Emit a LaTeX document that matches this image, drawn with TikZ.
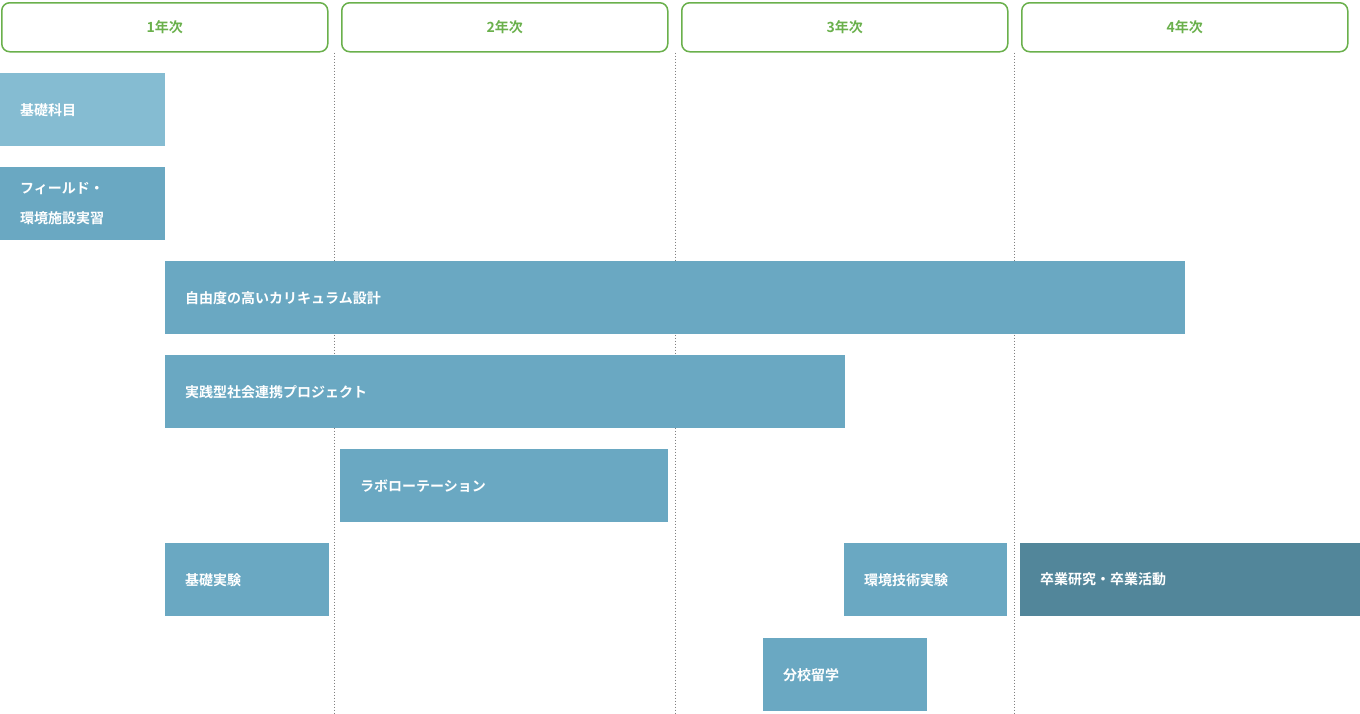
\documentclass[tikz,border=0pt]{standalone}
\usepackage{fontspec}
\newfontfamily\jpbold[BoldFont={Noto Sans CJK JP Bold}]{Noto Sans CJK JP}
\definecolor{yeargreen}{HTML}{6AB04C}
\definecolor{barlight}{HTML}{85BCD2}
\definecolor{barmid}{HTML}{6AA8C2}
\definecolor{bardark}{HTML}{52869A}
\tikzset{
  yearbox/.style={draw=yeargreen, line width=1.5pt, rounded corners=8pt, minimum width=326pt, minimum height=49pt, anchor=north west, font=\jpbold\bfseries\fontsize{14}{16}\selectfont, text=yeargreen},
  bar/.style={fill=#1, anchor=north west, minimum height=73pt, inner xsep=20pt, align=left, text=white, font=\jpbold\bfseries\fontsize{14}{30}\selectfont},
  divider/.style={gray, dotted, line width=1pt}
}
\begin{document}
\begin{tikzpicture}[x=1pt,y=-1pt]
  \useasboundingbox (0,0) rectangle (1360,713);
  % year headers
  \node[yearbox] (y1) at (1,2) {1年次};
  \node[yearbox] (y2) at (341,2) {2年次};
  \node[yearbox] (y3) at (681,2) {3年次};
  \node[yearbox] (y4) at (1021,2) {4年次};
  % dividers
  \coordinate (d1) at (334,713);
  \coordinate (d2) at (675,713);
  \coordinate (d3) at (1014,713);
  \draw[divider] (y1.south east -| d1) -- (d1);
  \draw[divider] (y2.south east -| d2) -- (d2);
  \draw[divider] (y3.south east -| d3) -- (d3);
  % bars
  \node[bar=barlight, minimum width=165pt, text width=125pt] (kiso) at (0,73) {基礎科目};
  \node[bar=barmid, minimum width=165pt, text width=125pt] (field) at (0,167) {フィールド・\\環境施設実習};
  \node[bar=barmid, minimum width=1020pt, text width=980pt] (jiyu) at (165,261) {自由度の高いカリキュラム設計};
  \node[bar=barmid, minimum width=680pt, text width=640pt] (jissen) at (165,355) {実践型社会連携プロジェクト};
  \node[bar=barmid, minimum width=328pt, text width=288pt] (labo) at (340,449) {ラボローテーション};
  \node[bar=barmid, minimum width=164pt, text width=124pt] (kjikken) at (165,543) {基礎実験};
  \node[bar=barmid, minimum width=163pt, text width=123pt] (kankyo) at (844,543) {環境技術実験};
  \node[bar=bardark, minimum width=340pt, text width=300pt] (sotsu) at (1020,543) {卒業研究・卒業活動};
  \node[bar=barmid, minimum width=164pt, text width=124pt] (ryugaku) at (763,638) {分校留学};
\end{tikzpicture}
\end{document}
